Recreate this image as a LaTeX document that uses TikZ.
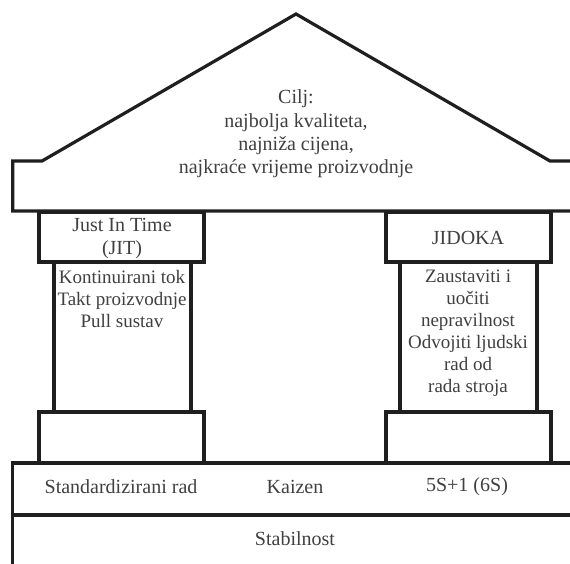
\documentclass[tikz,border=0pt]{standalone}
\usepackage{fontspec}
\setmainfont{Liberation Serif}
\begin{document}
\begin{tikzpicture}[x=1pt,y=-1pt,
  line/.style={draw=black!88, line width=3.2pt, line join=miter},
  box/.style={line, fill=white, inner sep=0pt, outer sep=0pt},
  txt/.style={text=black!75, font=\fontsize{20}{23.3}\selectfont, align=center, inner sep=0pt},
  coltxt/.style={txt, font=\fontsize{19}{22}\selectfont, anchor=north}]
\useasboundingbox (0,0) rectangle (570,563);
\clip (0,0) rectangle (570,563);
% foundation bands
\draw[box] (12.7,515) rectangle (579,580);
\draw[box] (12.7,463) rectangle (579,515);
% pillars
\draw[box] (39,412) rectangle (204,463);
\draw[box] (54,262) rectangle (191,412);
\draw[box] (39,212) rectangle (204,262);
\draw[box] (386,412) rectangle (551,463);
\draw[box] (400,262) rectangle (537,412);
\draw[box] (386,212) rectangle (551,262);
% roof
\draw[box] (12.7,161) -- (42,161) -- (296,14) -- (550,161) -- (579,161) -- (579,211) -- (12.7,211) -- cycle;
% texts
\node[txt] (goal) at (296,134) {Cilj:\\najbolja kvaliteta,\\najniža cijena,\\najkraće vrijeme proizvodnje};
\node[txt] (jit) at (122,238.5) {Just In Time\\(JIT)};
\node[txt] (jidoka) at (468,238) {JIDOKA};
\node[coltxt] (jitlist) at (122,270) {Kontinuirani tok\\Takt proizvodnje\\Pull sustav};
\node[coltxt] (jidlist) at (468,270) {Zaustaviti i\\uočiti\\nepravilnost\\Odvojiti ljudski\\rad od\\rada stroja};
\node[txt] (std) at (121,487) {Standardizirani rad};
\node[txt] (kaizen) at (295,487) {Kaizen};
\node[txt] (fives) at (467,487) {5S+1 (6S)};
\node[txt] (stab) at (295,539) {Stabilnost};
\end{tikzpicture}
\end{document}
